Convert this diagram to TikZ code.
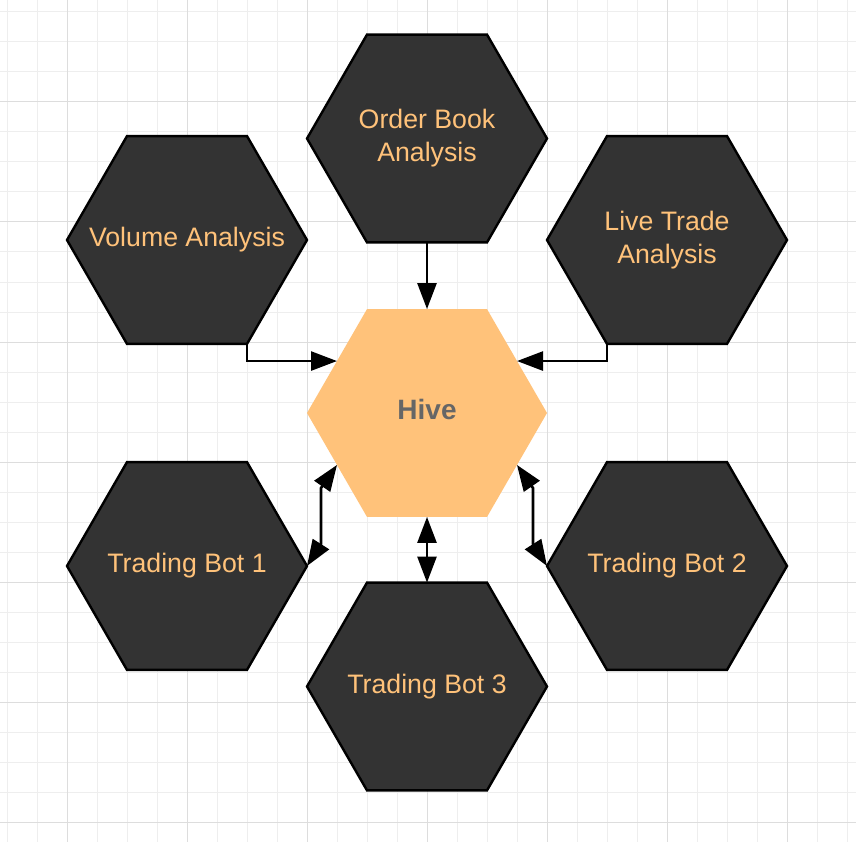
\documentclass[tikz,border=0pt]{standalone}
\usepackage{fontspec}
\setmainfont{Liberation Sans}
\usetikzlibrary{arrows.meta}
\usetikzlibrary{calc,positioning,shapes.geometric}

\definecolor{hexdark}{HTML}{333333}
\definecolor{hivefill}{HTML}{FFC27A}
\definecolor{hivetext}{HTML}{666666}
\definecolor{gridminor}{HTML}{EEEEEE}
\definecolor{gridmajor}{HTML}{DDDDDD}

\tikzset{
  hexa/.style={regular polygon, regular polygon sides=6, minimum size=240pt,
    inner sep=-40pt, outer sep=0pt, align=center},
  worker/.style={hexa, draw=black, line width=2.4pt, fill=hexdark, text=hivefill,
    font=\fontsize{26.7}{33}\selectfont},
  hub/.style={hexa, fill=hivefill, text=hivetext, text depth=8pt,
    font=\fontsize{28}{33}\selectfont\bfseries},
  link/.style={line width=2.6pt, -{Triangle[length=26pt, width=19pt]}},
  duplex/.style={line width=2.6pt, {Triangle[length=26pt, width=19pt]}-{Triangle[length=26pt, width=19pt]}}
}

\begin{document}
\begin{tikzpicture}[x=1pt, y=1pt]
  \useasboundingbox[fill=white] (0,0) rectangle (856,-842);

  % background grid
  \foreach \x in {7,37,...,847} \draw[gridminor, line width=1pt] (\x,0) -- (\x,-842);
  \foreach \y in {12,42,...,822} \draw[gridminor, line width=1pt] (0,-\y) -- (856,-\y);
  \foreach \x in {67,187,...,787} \draw[gridmajor, line width=1pt] (\x,0) -- (\x,-842);
  \foreach \y in {102,222,...,822} \draw[gridmajor, line width=1pt] (0,-\y) -- (856,-\y);

  \node[hub] (hive) at (427,-413) {Hive};

  \node[worker] (order) at (427,-138.5) {Order Book\\Analysis};
  \node[worker] (volume) at (187,-240) {Volume Analysis};
  \node[worker] (live) at (667,-240) {Live Trade\\Analysis};

  \node[worker] (bot1) at (187,-566) {Trading Bot 1};
  \node[worker] (bot2) at (667,-566) {Trading Bot 2};
  \node[worker] (bot3) at (427,-686.5) {Trading Bot 3};

  \draw[link] (order.south) -- (hive.north);
  \draw[link] (volume.-60) |- (hive.150);
  \draw[link] (live.240) |- (hive.30);

  \draw[duplex] (bot1.0) -- ++(14,22) -- ++(0,56) -- (hive.210);
  \draw[duplex] (bot2.180) -- ++(-14,22) -- ++(0,56) -- (hive.-30);
  \draw[duplex] (hive.south) -- (bot3.north);

\end{tikzpicture}
\end{document}
